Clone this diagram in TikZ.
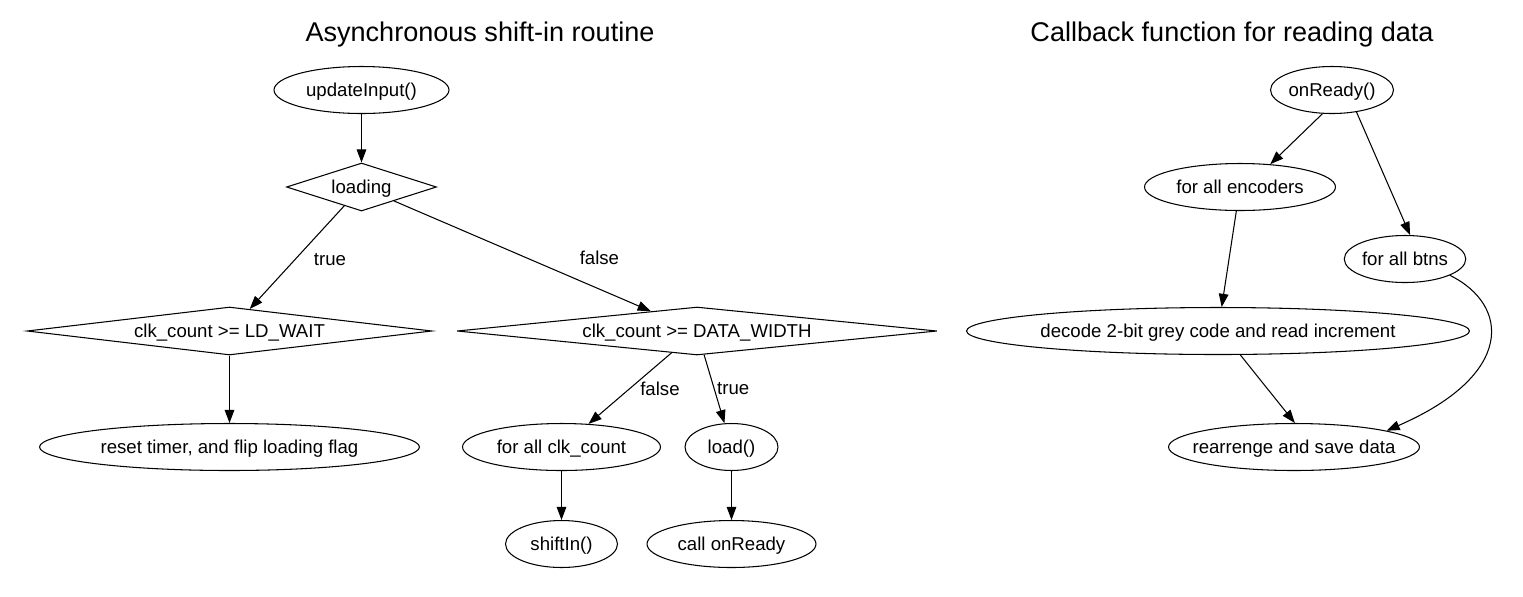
\documentclass[tikz,border=0pt]{standalone}
\usepackage{fontspec}
\setmainfont{Liberation Sans}
\usetikzlibrary{shapes.geometric,arrows.meta}

\begin{document}
\begin{tikzpicture}[x=0.02cm,y=-0.02cm,
  every node/.style={font=\fontsize{10.6}{12}\selectfont},
  oval/.style={draw,ellipse,line width=0.6pt,inner sep=0pt,text depth=0pt,minimum height=0.94cm},
  test/.style={draw,diamond,line width=0.6pt,aspect=3,inner sep=0pt,text depth=0pt,minimum height=0.96cm},
  edge/.style={line width=0.6pt,-{Triangle[length=7.5pt,width=5.5pt]}},
  title/.style={font=\fontsize{15.4}{18}\selectfont}]

\useasboundingbox (0,0) rectangle (1523,596);

\node[title] (t1) at (480,34) {Asynchronous shift-in routine};
\node[title] (t2) at (1232,34) {Callback function for reading data};

\node[oval,minimum width=3.5cm] (upd) at (361.5,90) {updateInput()};
\node[test,minimum width=3cm] (loading) at (361.5,187) {loading};
\node[test,aspect=10,minimum width=8.1cm] (ldwait) at (229.5,331) {clk\_count >= LD\_WAIT};
\node[test,aspect=10,minimum width=9.6cm] (dwidth) at (697,331) {clk\_count >= DATA\_WIDTH};
\node[oval,minimum width=7.6cm] (reset) at (229.5,447) {reset timer, and flip loading flag};
\node[oval,minimum width=3.96cm] (forclk) at (561.5,447) {for all clk\_count};
\node[oval,minimum width=1.86cm] (load) at (731.5,447) {load()};
\node[oval,minimum width=2.24cm] (shift) at (561.5,544) {shiftIn()};
\node[oval,minimum width=3.38cm] (callrdy) at (731.5,544) {call onReady};

\node[oval,minimum width=2.42cm] (rdy) at (1332,90) {onReady()};
\node[oval,minimum width=3.82cm] (enc) at (1240,187) {for all encoders};
\node[oval,minimum width=2.26cm] (btns) at (1405,259) {for all btns};
\node[oval,minimum width=10.06cm] (decode) at (1218,331) {decode 2-bit grey code and read increment};
\node[oval,inner xsep=-0.26cm,minimum width=5.02cm] (save) at (1294,447) {rearrenge and save data};

% shift-in routine
\draw[edge] (upd) -- (loading);
\draw[edge] (loading) -- node[xshift=0.66cm,yshift=-1pt] {true} (ldwait);
\draw[edge] (loading) -- node[xshift=1.54cm,yshift=-1pt] {false} (dwidth);
\draw[edge] (ldwait) -- (reset);
\draw[edge] (dwidth) -- node[xshift=0.6cm] {false} (forclk);
\draw[edge] (dwidth) -- node[xshift=0.38cm] {true} (load);
\draw[edge] (forclk) -- (shift);
\draw[edge] (load) -- (callrdy);

% callback
\draw[edge] (rdy.-112) -- (enc.37);
\draw[edge] (rdy.-42) -- (btns.78);
\draw[edge] (enc) -- (decode);
\draw[edge] (decode.-47) -- (save.88);
\draw[edge] (btns.-20) .. controls (1510,305) and (1515,375) .. (save.10);

\end{tikzpicture}
\end{document}
